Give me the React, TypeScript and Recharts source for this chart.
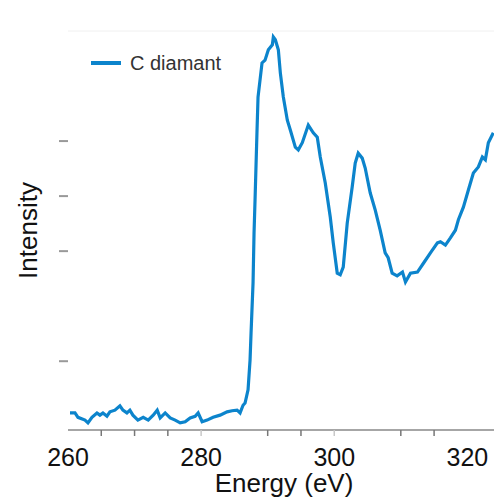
import React from 'react';
import { LineChart, Line, XAxis, YAxis, Legend, ReferenceLine } from 'recharts';

const energy = [
  260.3, 261.05, 261.5, 262.55, 263.0, 263.6, 264.35, 264.8, 265.25, 265.85,
  266.3, 267.05, 267.8, 268.25, 268.85, 269.3, 269.75, 270.5, 271.3, 272.05,
  272.8, 273.4, 273.85, 274.6, 275.35, 276.1, 276.85, 277.6, 278.35, 279.1,
  279.55, 280.15, 280.9, 281.8, 282.85, 283.9, 284.65, 285.4, 285.85, 286.3,
  286.6, 287.05, 287.35, 287.5, 287.8, 287.95, 288.1, 288.4, 288.55, 289.15,
  289.6, 290.1, 290.7, 290.85, 291.15, 291.6, 291.9, 292.35, 292.95, 293.4,
  294.15, 294.6, 295.2, 296.1, 296.85, 297.45, 297.9, 298.65, 299.4, 299.85,
  300.45, 300.9, 301.35, 301.95, 302.7, 303.15, 303.6, 304.2, 304.65, 305.4,
  306.15, 306.9, 307.65, 308.1, 308.7, 309.45, 310.25, 310.7, 311.45, 312.5,
  313.4, 314.45, 315.5, 315.95, 316.7, 317.45, 318.2, 318.65, 319.4, 320.15,
  320.9, 321.65, 322.25, 322.7, 323.15, 323.9,
];

const intensity = [
  0.06, 0.06, -0.02, -0.07, -0.12, -0.02, 0.06, 0.02, 0.06, 0.0,
  0.08, 0.11, 0.19, 0.11, 0.06, 0.11, 0.02, -0.07, -0.02, -0.07,
  0.02, 0.11, -0.03, 0.06, -0.03, -0.07, -0.12, -0.1, -0.03, 0.0,
  0.06, -0.1, -0.07, -0.02, 0.02, 0.08, 0.1, 0.11, 0.06, 0.2,
  0.24, 0.48, 1.02, 1.51, 2.42, 3.33, 3.93, 5.2, 5.8, 6.42,
  6.47, 6.66, 6.75, 6.89, 6.84, 6.66, 6.24, 5.8, 5.38, 5.2,
  4.89, 4.84, 4.97, 5.29, 5.15, 5.07, 4.71, 4.24, 3.62, 3.15,
  2.6, 2.57, 2.71, 3.51, 4.17, 4.6, 4.78, 4.69, 4.51, 4.06,
  3.75, 3.38, 2.97, 2.88, 2.6, 2.55, 2.62, 2.44, 2.6, 2.62,
  2.78, 2.97, 3.15, 3.17, 3.11, 3.24, 3.38, 3.57, 3.8, 4.11,
  4.42, 4.53, 4.71, 4.66, 4.97, 5.15,
];

const seriesName = 'C diamant';
const xTicks = [260, 265, 270, 275, 280, 285, 290, 295, 300, 305, 310, 315, 320];
const xLabelTicks = [260, 280, 300, 320];
const xMarkedTicks = [265, 270, 275, 280, 290, 295, 300, 310, 315];
const xFaintTicks = [280, 300];
const yTicks = [1, 3, 4, 5];
const xDomain = [260, 324];
const yDomain = [-0.25, 7];
const xTitle = 'Energy (eV)';
const yTitle = 'Intensity';

const data = energy.map((e, i) => ({ e, v: intensity[i] }));

const FONT = '"Liberation Sans", Arial, Helvetica, sans-serif';
const BLUE = '#0c84cc';

const XTick = (props: any) => {
  const { x, y, payload } = props;
  const val = payload.value;
  const axisY = y - 18;
  const marked = xMarkedTicks.includes(val);
  const faint = xFaintTicks.includes(val);
  return (
    <g>
      {marked && (
        <line x1={x} x2={x} y1={axisY} y2={axisY + 6} stroke={faint ? '#c8c8c8' : '#777'} strokeWidth={1.5} />
      )}
      {xLabelTicks.includes(val) && (
        <text x={x} y={y} dy="0.71em" textAnchor="middle" fontSize={25} fontFamily={FONT} fill="#111">
          {val}
        </text>
      )}
    </g>
  );
};

const LegendContent = () => (
  <div style={{ display: 'flex', alignItems: 'center', height: 24, fontFamily: FONT }}>
    <div style={{ width: 30, height: 4, background: BLUE, marginRight: 9 }} />
    <span style={{ fontSize: 20, color: '#333' }}>{seriesName}</span>
  </div>
);

export default function App() {
  return (
    <div style={{ position: 'fixed', left: 0, top: 0, width: 494, height: 499, overflow: 'hidden', background: '#fff' }}>
      <div style={{ position: 'absolute', left: 8, top: 8 }}>
        <LineChart
          width={486}
          height={491}
          data={data}
          margin={{ top: 23, right: 0, bottom: 0, left: 0 }}
        >
          <ReferenceLine y={yDomain[1]} stroke="#f0f0f0" strokeWidth={1} />
          <XAxis
            dataKey="e"
            type="number"
            domain={xDomain}
            ticks={xTicks}
            allowDataOverflow
            height={69}
            tickSize={6}
            tickMargin={12}
            tickLine={false}
            axisLine={{ stroke: '#888', strokeWidth: 1.5 }}
            tick={<XTick />}
            interval={0}
            label={{
              content: (p: any) => {
                const vb = p.viewBox;
                return (
                  <text x={vb.x + vb.width / 2 + 3} y={484} textAnchor="middle" fontSize={26} fontFamily={FONT} fill="#111">
                    {xTitle}
                  </text>
                );
              },
            }}
          />
          <YAxis
            type="number"
            domain={yDomain}
            ticks={yTicks}
            width={60}
            tickSize={9}
            axisLine={false}
            tickLine={{ stroke: '#999', strokeWidth: 2 }}
            tickFormatter={() => ''}
            label={{
              content: (p: any) => {
                const vb = p.viewBox;
                const cy = vb.y + vb.height / 2;
                return (
                  <text
                    x={20}
                    y={cy}
                    transform={`rotate(-90, 20, ${cy})`}
                    textAnchor="middle"
                    dominantBaseline="central"
                    fontSize={26}
                    fontFamily={FONT}
                    fill="#111"
                  >
                    {yTitle}
                  </text>
                );
              },
            }}
          />
          <Legend
            layout="vertical"
            align="center"
            verticalAlign="middle"
            wrapperStyle={{ top: 43, left: 83, width: 'auto' }}
            content={<LegendContent />}
          />
          <Line
            type="linear"
            dataKey="v"
            name={seriesName}
            stroke={BLUE}
            strokeWidth={3.2}
            dot={false}
            isAnimationActive={false}
          />
        </LineChart>
      </div>
    </div>
  );
}
